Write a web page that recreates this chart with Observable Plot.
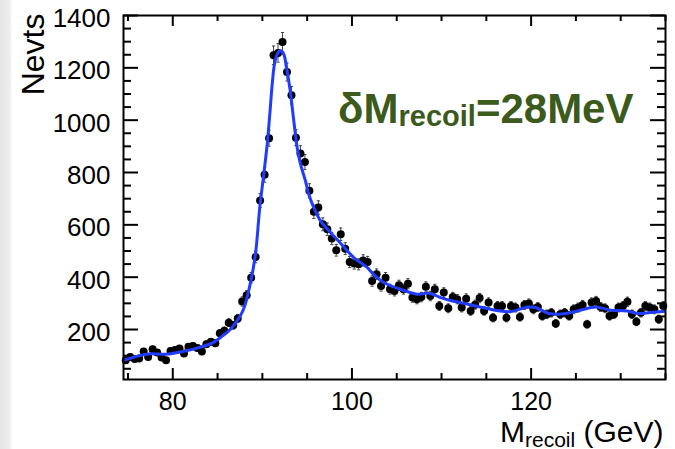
<!DOCTYPE html>
<html><head><meta charset="utf-8">
<script src="https://cdn.jsdelivr.net/npm/d3@7"></script>
<script src="https://cdn.jsdelivr.net/npm/@observablehq/plot@0.6"></script>
<style>
html,body{margin:0;padding:0;background:#fff;}
#wrap{position:relative;width:675px;height:449px;background:linear-gradient(to right,#e4e4e4 0px,#eeeeee 10px,#ffffff 12px,#ffffff 100%);}
#wrap svg{display:block;}
</style></head><body><div id="wrap"></div>
<script>
// bin centres (GeV)
const binCenters = [74.75,75.25,75.75,76.25,76.75,77.25,77.75,78.25,78.75,79.25,
79.75,80.25,80.75,81.25,81.75,82.25,82.75,83.25,83.75,84.25,
84.75,85.25,85.75,86.25,86.75,87.25,87.75,88.25,88.75,89.25,
89.75,90.25,90.75,91.25,91.75,92.25,92.75,93.25,93.75,94.25,
94.75,95.25,95.75,96.25,96.75,97.25,97.75,98.25,98.75,99.25,
99.75,100.25,100.75,101.25,101.75,102.25,102.75,103.25,103.75,104.25,
104.75,105.25,105.75,106.25,106.75,107.25,107.75,108.25,108.75,109.25,
109.75,110.25,110.75,111.25,111.75,112.25,112.75,113.25,113.75,114.25,
114.75,115.25,115.75,116.25,116.75,117.25,117.75,118.25,118.75,119.25,
119.75,120.25,120.75,121.25,121.75,122.25,122.75,123.25,123.75,124.25,
124.75,125.25,125.75,126.25,126.75,127.25,127.75,128.25,128.75,129.25,
129.75,130.25,130.75,131.25,131.75,132.25,132.75,133.25,133.75,134.25,
134.75];
// events per bin
const counts = [83,95,87,89,116,95,125,112,93,83,
118,122,127,108,134,137,129,116,144,153,
148,186,195,226,216,242,307,331,398,477,
693,791,931,1248,1257,1299,1184,1095,933,873,
840,730,650,666,602,583,548,503,564,509,
458,452,449,464,458,385,411,366,398,354,
347,369,354,375,322,316,324,363,328,354,
290,341,281,324,316,284,318,271,295,320,
271,303,245,290,290,245,290,284,248,294,
299,277,286,252,258,264,223,258,264,252,
277,284,294,220,303,309,286,281,252,258,
284,290,306,258,230,264,290,284,277,239,
290];
// fitted curve
const fitX = [74.5,75.5,76.5,77.5,78.5,79.5,80.5,81.5,82.5,83.5,84.5,85.5,86.5,87.5,88.0,
88.68,89.23,89.71,90.16,90.54,90.83,91.10,91.35,91.66,92.02,
92.39,92.69,93.06,93.51,93.89,94.26,94.81,95.18,95.74,96.49,97.42,98.72,
100.2,101.7,102.4,103.6,105.4,107.3,108.6,109.9,111.0,112.1,113.8,
116.0,117.7,119.6,120.5,122.0,123.4,125.2,127.2,128.9,130.7,132.0,133.3,135.0];
const fitY = [82,93,102,107,106,106,112,119,127,137,150,174,203,250,287,
380,488,666,794,908,1023,1138,1214,1252,1265,
1252,1201,1125,997,895,832,768,717,666,615,577,530,
475,437,411,379,354,335,339,322,311,303,290,
274,268,286,284,261,259,271,286,274,271,261,265,270];

const xMajorTicks = [80,100,120];
const xMinorTicks = [75,85,90,95,105,110,115,125,130,135];
const yMajorTicks = [200,400,600,800,1000,1200,1400];
const yMinorTicks = [50,100,150,250,300,350,450,500,550,650,700,750,850,900,950,1050,1100,1150,1250,1300,1350];
const xDomain = [74.5,135];
const yDomain = [9,1400];
const yTitle = "Nevts";
const xTitle = "M_recoil (GeV)";
const annotation = "δM_recoil=28MeV";

const data = binCenters.map((x,i)=>({x, n: counts[i]}));
const fit = fitX.map((x,i)=>({x, y: fitY[i]}));

const W=675,H=449,mL=123,mR=10,mT=15,mB=70;
const fw=W-mL-mR, fh=H-mT-mB;
const capSymbol = {draw(ctx,size){const r=Math.sqrt(size/Math.PI);ctx.moveTo(-r,0);ctx.lineTo(r,0);}};
const K = {stroke:"#000", strokeWidth:2};

const plot = Plot.plot({
  width:W, height:H, marginLeft:mL, marginRight:mR, marginTop:mT, marginBottom:mB,
  style:{background:"transparent", fontFamily:"'Liberation Sans', Arial, Helvetica, sans-serif", fontSize:"26px", color:"#000", overflow:"visible"},
  x:{domain:xDomain},
  y:{domain:yDomain},
  marks:[
    Plot.ruleX(data,{x:"x", y1:d=>d.n-Math.sqrt(d.n), y2:d=>d.n+Math.sqrt(d.n), stroke:"#444", strokeWidth:1}),
    Plot.dot(data,{x:"x", y:d=>d.n+Math.sqrt(d.n), symbol:capSymbol, r:1.6, stroke:"#444", strokeWidth:1, fill:"none"}),
    Plot.dot(data,{x:"x", y:d=>d.n-Math.sqrt(d.n), symbol:capSymbol, r:1.6, stroke:"#444", strokeWidth:1, fill:"none"}),
    Plot.dot(data,{x:"x", y:"n", r:4, fill:"#000", stroke:"none"}),
    Plot.line(fit,{x:"x", y:"y", stroke:"#1f3cff", strokeWidth:3, curve:"catmull-rom", clip:true}),
    Plot.frame(K),
    Plot.ruleX(xMajorTicks,{insetTop:fh-11, ...K}),
    Plot.ruleX(xMajorTicks,{insetBottom:fh-11, ...K}),
    Plot.ruleX(xMinorTicks,{insetTop:fh-6, ...K}),
    Plot.ruleX(xMinorTicks,{insetBottom:fh-6, ...K}),
    Plot.ruleY(yMajorTicks,{insetRight:fw-15, ...K}),
    Plot.ruleY(yMajorTicks,{insetLeft:fw-15, ...K}),
    Plot.ruleY(yMinorTicks,{insetRight:fw-8, ...K}),
    Plot.ruleY(yMinorTicks,{insetLeft:fw-8, ...K}),
    Plot.axisX({ticks:xMajorTicks, tickSize:0, tickPadding:13, label:null, fontSize:25, tickFormat:d=>String(d)}),
    Plot.axisY({ticks:yMajorTicks, tickSize:0, tickPadding:13, label:null, fontSize:26, dy:3, tickFormat:d=>String(d)}),
    Plot.text([yTitle],{text:d=>d, frameAnchor:"top-left", rotate:-90, textAnchor:"end", lineAnchor:"middle", dx:-90, dy:-2, fontSize:32}),
    Plot.text([xTitle],{text:d=>d, frameAnchor:"bottom-right", textAnchor:"end", lineAnchor:"bottom", dx:-2, dy:62, fontSize:30}),
    Plot.text([annotation],{text:d=>d, frameAnchor:"top-right", textAnchor:"end", lineAnchor:"bottom", dx:-32, dy:107, fontSize:42, fontWeight:"bold", fill:"#3b5a1c"})
  ]
});

function subscriptify(svg, placeholder, parts){
  svg.querySelectorAll("text").forEach(t=>{
    if (t.textContent === placeholder){
      t.textContent = "";
      for (const p of parts){
        const ts = document.createElementNS("http://www.w3.org/2000/svg","tspan");
        ts.textContent = p.text;
        if (p.dy != null) ts.setAttribute("dy", p.dy);
        if (p.size) ts.setAttribute("font-size", p.size);
        t.appendChild(ts);
      }
    }
  });
}
const [xMain, xSub, xUnit] = ["M", "recoil", " (GeV)"];
subscriptify(plot, xTitle, [{text:xMain},{text:xSub, size:"21px", dy:5},{text:xUnit, size:"30px", dy:-5}]);
subscriptify(plot, annotation, [{text:"δM"},{text:"recoil", size:"29px", dy:3},{text:"=28MeV", size:"42px", dy:-3}]);

document.getElementById("wrap").appendChild(plot);
</script></body></html>
